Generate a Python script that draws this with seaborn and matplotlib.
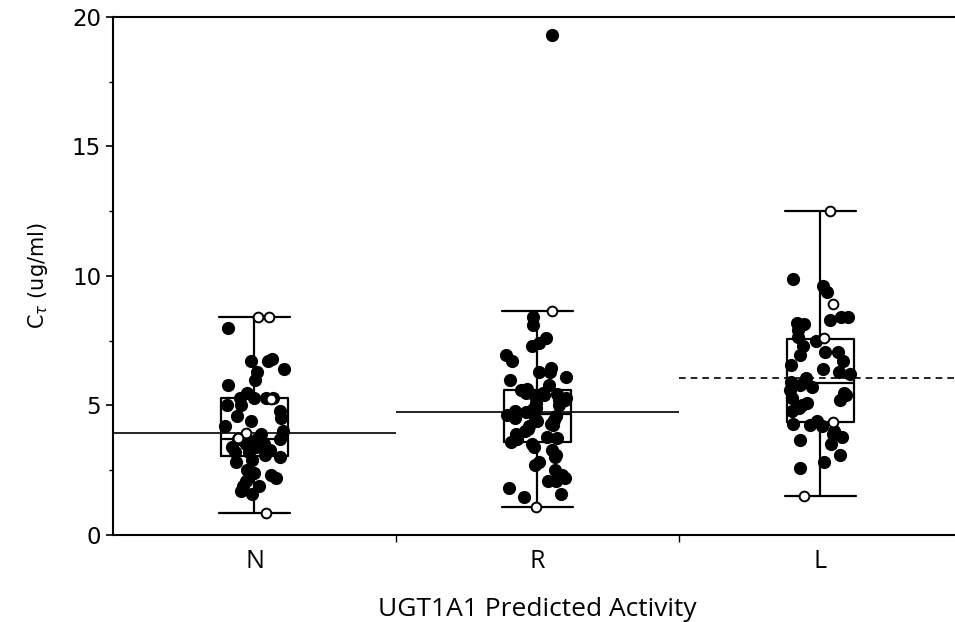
import numpy as np
import pandas as pd
import matplotlib
matplotlib.use("Agg")
import matplotlib.pyplot as plt
import seaborn as sns
from matplotlib.ticker import MultipleLocator, FixedLocator

# Trough concentrations by predicted UGT1A1 activity group
groups = ["N", "R", "L"]

n_values = [8.0, 6.8, 6.7, 6.7, 6.4, 6.3, 6.0, 5.8, 5.3, 5.3, 5.3, 5.3, 5.5, 5.0,
            5.0, 4.8, 4.6, 4.4, 4.5, 4.2, 3.9, 4.0, 3.7, 3.7, 3.7, 3.4, 3.4, 3.3,
            3.1, 2.9, 2.8, 2.4, 2.5, 2.4, 2.1, 2.2, 2.3, 1.9, 1.9, 1.7, 1.6, 3.6,
            3.5, 3.5, 3.6, 3.3, 3.2, 3.0, 3.2]
n_open = [8.4, 8.4, 5.25, 3.95, 3.75, 0.85]

r_values = [19.3, 8.4, 8.1, 7.6, 7.4, 7.3, 6.95, 6.7, 6.45, 6.3, 6.3, 6.1, 5.8,
            6.0, 5.5, 5.5, 5.6, 5.3, 5.2, 5.2, 5.1, 5.0, 4.8, 4.75, 4.5, 4.25,
            4.4, 4.5, 4.1, 5.65, 4.0, 3.7, 3.5, 3.4, 3.0, 3.1, 2.8, 2.7, 2.5,
            2.3, 2.1, 2.1, 2.2, 1.8, 1.6, 1.45, 4.9, 4.6, 4.3, 3.9, 3.8, 3.6,
            4.2, 5.45, 4.7, 5.4, 3.3, 3.75, 4.45, 4.65, 4.85, 5.35]
r_open = [8.65, 1.08]

l_values = [9.9, 9.6, 9.4, 8.4, 8.4, 8.2, 8.15, 8.3, 7.9, 7.3, 7.05, 6.95, 7.05,
            6.7, 6.55, 6.4, 6.3, 6.2, 6.05, 5.8, 5.5, 5.4, 5.0, 4.4, 4.0, 3.8,
            3.65, 3.5, 3.1, 2.8, 2.6, 4.8, 5.1, 5.2, 5.3, 5.6, 5.7, 4.3, 4.9,
            5.9, 4.2, 3.9, 7.5, 7.65, 4.25]
l_open = [12.5, 8.9, 7.6, 4.36, 1.5]

group_means = [3.95, 4.75, 6.05]
mean_styles = ["-", "-", (0, (4, 3))]

filled = {"N": n_values, "R": r_values, "L": l_values}
hollow = {"N": n_open, "R": r_open, "L": l_open}

rows = []
for g in groups:
    rows += [(g, v, False) for v in filled[g]]
    rows += [(g, v, True) for v in hollow[g]]
df = pd.DataFrame(rows, columns=["activity", "ctau", "open"])

sns.set_theme(style="white")
plt.rcParams["font.family"] = ["DejaVu Sans"]

fig = plt.figure(figsize=(9.55, 6.22), dpi=100)
ax = fig.add_axes([0.1183, 0.1399, 0.889, 0.8328])

sns.boxplot(data=df, x="activity", y="ctau", order=groups, fill=False,
            color="black", linecolor="black", width=0.24, whis=2.0,
            showfliers=False, linewidth=1.6, capwidths=0.25, ax=ax)

np.random.seed(7)
sns.stripplot(data=df[~df["open"]], x="activity", y="ctau", order=groups,
              color="black", size=9.5, jitter=0.11, linewidth=0, ax=ax)
sns.stripplot(data=df[df["open"]], x="activity", y="ctau", order=groups,
              color="white", edgecolor="black", linewidth=1.4, size=7,
              jitter=0.06, ax=ax)

for i, (m, ls) in enumerate(zip(group_means, mean_styles)):
    ax.hlines(m, i - 0.5, i + 0.5, colors="black", linestyles=[ls],
              linewidth=1.2, zorder=1)

ax.set_xlim(-0.5, 2.5)
ax.set_ylim(0, 20)
ax.yaxis.set_major_locator(MultipleLocator(5))
ax.yaxis.set_minor_locator(MultipleLocator(2.5))
ax.xaxis.set_minor_locator(FixedLocator([0.5, 1.5]))

ax.tick_params(axis="y", which="major", direction="out", length=5, width=1.2,
               labelsize=16.5, color="black", labelcolor="black", left=True)
ax.tick_params(axis="y", which="minor", direction="out", length=3, width=1,
               color="black", left=True)
ax.tick_params(axis="x", which="major", length=0, pad=10)
ax.tick_params(axis="x", which="minor", direction="out", length=5, width=1,
               color="black", bottom=True)
for lbl in ax.get_xticklabels():
    lbl.set_fontfamily("Open Sans")
    lbl.set_fontsize(18)
    lbl.set_color("black")

for side in ["top", "left", "bottom"]:
    ax.spines[side].set_visible(True)
    ax.spines[side].set_color("black")
    ax.spines[side].set_linewidth(1.5)
ax.spines["right"].set_visible(False)

ax.set_xlabel("UGT1A1 Predicted Activity", fontfamily="Open Sans",
              fontsize=19, color="black", labelpad=17)
ax.set_ylabel(r"C$_\tau$ (ug/ml)", fontsize=15, color="black", labelpad=16)

fig.savefig("out.png", dpi=100, facecolor="white")
